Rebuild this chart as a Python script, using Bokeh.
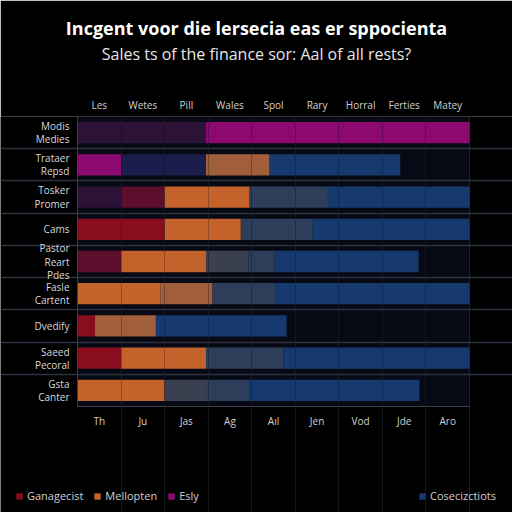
from bokeh.plotting import figure
from bokeh.models import (Range1d, FixedTicker, LinearAxis, Grid, Legend, LegendItem,
                          BoxAnnotation, ColumnDataSource)
from bokeh.embed import file_html
from bokeh.resources import INLINE

# ---------------- data ----------------
title_text = "Incgent voor die lersecia eas er sppocienta"
subtitle_text = "Sales ts of the finance sor: Aal of all rests?"

rows = ["Modis\nMedies", "Trataer\nRepsd", "Tosker\nPromer", "Cams",
        "Pastor\nReart\nPdes", "Fasle\nCartent", "Dvedify", "Saeed\nPecoral",
        "Gsta\nCanter"]
top_labels = ["Les", "Wetes", "Pill", "Wales", "Spol", "Rary", "Horral", "Ferties", "Matey"]
bottom_labels = ["Th", "Ju", "Jas", "Ag", "Aıl", "Jen", "Vod", "Jde", "Aro"]

series = ["purple", "magenta", "red", "maroon", "navy", "orange", "brown", "grey", "slate", "blue"]
purple  = [2.95, 0.0, 1.0, 0.0, 0.0, 0.0, 0.0, 0.0, 0.0]
magenta = [6.05, 1.0, 0.0, 0.0, 0.0, 0.0, 0.0, 0.0, 0.0]
red     = [0.0, 0.0, 0.0, 2.0, 0.0, 0.0, 0.4, 1.0, 0.0]
maroon  = [0.0, 0.0, 1.0, 0.0, 1.0, 0.0, 0.0, 0.0, 0.0]
navy    = [0.0, 1.95, 0.0, 0.0, 0.0, 0.0, 0.0, 0.0, 0.0]
orange  = [0.0, 0.0, 1.95, 1.75, 1.95, 1.9, 0.0, 1.95, 2.0]
brown   = [0.0, 1.46, 0.0, 0.0, 0.0, 1.2, 1.4, 0.0, 0.0]
grey    = [0.0, 0.0, 0.0, 0.0, 0.98, 0.0, 0.0, 0.0, 0.95]
slate   = [0.0, 0.0, 1.8, 1.65, 0.6, 1.45, 0.0, 1.78, 1.0]
blue    = [0.0, 3.0, 3.25, 3.6, 3.3, 4.45, 3.0, 4.27, 3.9]

colors = ["#2c1236", "#8c0a70", "#8a0d1d", "#5c0e2c", "#1b1d4d", "#c4622c",
          "#a05f3a", "#3a404f", "#2d3e5a", "#173a6e"]

legend_left = [("Ganagecist", "red"), ("Mellopten", "orange"), ("Esly", "magenta")]
legend_right = [("Cosecizctiots", "blue")]

# ---------------- layout constants (pixels) ----------------
W, H = 512, 512
frame_top = 116
area_left, area_right = 77, 469      # plot area (value 0 .. 9)
area_bottom = 406                   # bottom of the row bands
n = len(rows)
ncols = len(top_labels)
ux = (area_right - area_left) / ncols
uy = (area_bottom - frame_top) / n
x0 = -area_left / ux
x1 = ncols + (W - area_right) / ux
y1 = n - 0.5
y0 = y1 - (H - frame_top) / uy

ypos = [n - 1 - i for i in range(n)]
data = dict(y=ypos, purple=purple, magenta=magenta, red=red, maroon=maroon, navy=navy,
            orange=orange, brown=brown, grey=grey, slate=slate, blue=blue)
source = ColumnDataSource(data)

p = figure(width=W, height=H, x_range=Range1d(x0, x1), y_range=Range1d(y0, y1),
           output_backend="svg", toolbar_location=None,
           x_axis_location=None, y_axis_location=None,
           min_border_left=0, min_border_right=0, min_border_bottom=0,
           min_border_top=frame_top)
p.center = [r for r in p.center if not isinstance(r, Grid)]
p.background_fill_color = "#000000"
p.border_fill_color = "#000000"
p.outline_line_color = None

area = BoxAnnotation(left=0, right=ncols, bottom=-0.5, top=n - 0.5, fill_color="#070a14",
                     fill_alpha=1.0, line_color=None, level="image")
p.add_layout(area)

renderers = p.hbar_stack(series, y="y", height=0.66, color=colors, source=source,
                         line_color=None)
rmap = dict(zip(series, renderers))

# grids
vgrid = Grid(dimension=0, ticker=FixedTicker(ticks=list(range(1, ncols + 1))),
             bounds=(-0.5, n - 0.5), grid_line_color="#1a202c")
hgrid = Grid(dimension=1, ticker=FixedTicker(ticks=[i + 0.5 for i in range(n - 1)]),
             bounds=(0, ncols), grid_line_color="#2c323e", grid_line_width=1.5)
over = Grid(dimension=0, ticker=FixedTicker(ticks=list(range(1, ncols))),
            bounds=(-0.5, n - 0.5), level="overlay",
            grid_line_color="#000000", grid_line_alpha=0.25)
p.add_layout(vgrid)
p.add_layout(hgrid)
p.add_layout(over)

xt = [i + 0.5 for i in range(ncols)]

def style_axis(ax):
    ax.major_tick_line_color = None
    ax.minor_tick_line_color = None
    ax.major_tick_out = 0
    ax.major_tick_in = 0
    ax.major_label_text_color = "#d0d0d0"
    ax.major_label_text_font = "Open Sans"
    ax.major_label_text_font_size = "10px"

bottom = LinearAxis(ticker=FixedTicker(ticks=xt), fixed_location=-0.5, bounds=(0, ncols),
                    major_label_overrides={t: lab for t, lab in zip(xt, bottom_labels)})
style_axis(bottom)
bottom.axis_line_color = "#3a3f4a"
bottom.major_label_standoff = 7
p.add_layout(bottom, "below")

left = LinearAxis(ticker=FixedTicker(ticks=ypos), fixed_location=0, bounds=(-0.5, n - 0.5),
                  major_label_overrides={y: lab for y, lab in zip(ypos, rows)})
style_axis(left)
left.axis_line_color = "#3a3f4a"
left.major_label_text_color = "#d8d8d8"
left.major_label_text_align = "right"
left.major_label_text_line_height = 0.95
left.major_label_standoff = 8
p.add_layout(left, "left")

top = LinearAxis(ticker=FixedTicker(ticks=xt),
                 major_label_overrides={t: lab for t, lab in zip(xt, top_labels)})
style_axis(top)
top.axis_line_color = None
top.major_label_standoff = 5
top.axis_label = subtitle_text
top.axis_label_text_font = "Open Sans"
top.axis_label_text_font_size = "16px"
top.axis_label_text_font_style = "normal"
top.axis_label_text_color = "#e6e6e6"
top.axis_label_standoff = 30
p.add_layout(top, "above")

p.title.text = title_text
p.title.align = "center"
p.title.standoff = 0
p.title.text_color = "#ffffff"
p.title.text_font = "Open Sans"
p.title.text_font_size = "18px"
p.title.text_font_style = "bold"

# legends
def make_legend(entries, loc):
    lg = Legend(items=[LegendItem(label=lab, renderers=[rmap[s]]) for lab, s in entries],
                location=loc, orientation="horizontal", background_fill_alpha=0,
                border_line_color=None, label_text_color="#cfcfcf",
                label_text_font="Open Sans", label_text_font_size="11px",
                glyph_width=8, glyph_height=8, label_height=12, spacing=10,
                padding=0, margin=0, label_standoff=4)
    p.add_layout(lg, "center")

make_legend(legend_left, (15, 9))
make_legend(legend_right, (418, 9))

open("out.html", "w").write(file_html(p, INLINE))
